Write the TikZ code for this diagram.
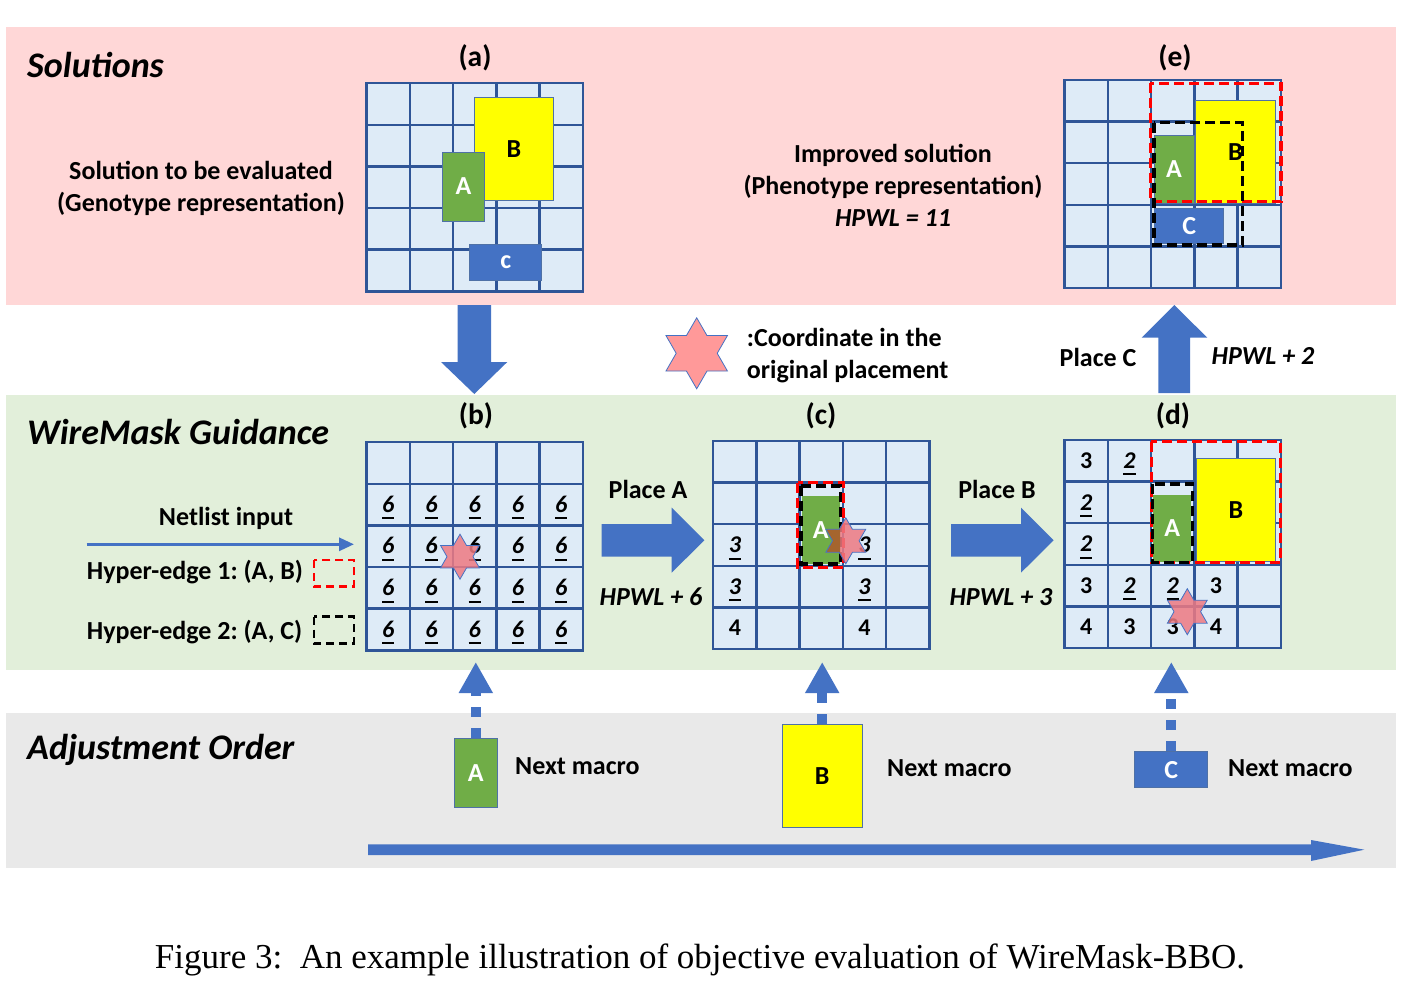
\documentclass[tikz,border=0pt]{standalone}
\usepackage{fontspec}
\setmainfont{Carlito}
\newfontfamily\capfont{Liberation Serif}
\usetikzlibrary{shapes.geometric,arrows.meta}
\frenchspacing
\definecolor{bandpink}{HTML}{FFD7D7}
\definecolor{bandgreen}{HTML}{E2EFDA}
\definecolor{bandgray}{HTML}{E9E9E9}
\definecolor{cellblue}{HTML}{DEEBF7}
\definecolor{gridblue}{HTML}{2F5597}
\definecolor{mblue}{HTML}{4472C4}
\definecolor{mgreen}{HTML}{70AD47}
\definecolor{myellow}{HTML}{FFFF00}
\definecolor{starpink}{HTML}{FF9999}
\definecolor{gridstar}{HTML}{EE7A82}
\definecolor{starbrown}{HTML}{A5652E}
\definecolor{blkline}{HTML}{4F71A6}

\newcommand{\un}[1]{\setbox0\hbox{\textit{#1}}\rlap{\rule[-7pt]{\wd0}{2pt}}\box0}

\newcommand{\wmgrid}[3]{%
  \node[gridbg] (#1) at ({#2+108},{#3+104}) {};
  \foreach \i in {1,2,3,4} {
    \draw[gridline] ({#2+\i*43.2},#3) -- ({#2+\i*43.2},{#3+208});
    \draw[gridline] (#2,{#3+\i*41.6}) -- ({#2+216},{#3+\i*41.6});
  }
  \draw[gridline] (#1.north west) rectangle (#1.south east);
}
\newcommand{\cnum}[6]{\node[numtxt, anchor=base] (#1n#4#5) at ({#2+(#4-0.5)*43.2},{#3+(#5-0.5)*41.6+7.6}) {#6};}

\begin{document}
\begin{tikzpicture}[x=1pt,y=-1pt,
  every node/.style={font=\bfseries\fontsize{26}{32}\selectfont, inner sep=0pt},
  titletxt/.style={font=\bfseries\itshape\fontsize{36}{42}\selectfont, anchor=west},
  sublbl/.style={font=\bfseries\fontsize{29.5}{34}\selectfont},
  numtxt/.style={font=\bfseries\fontsize{24}{28}\selectfont},
  gridbg/.style={rectangle, fill=cellblue, minimum width=216pt, minimum height=208pt},
  gridline/.style={draw=gridblue, line width=2.5pt},
  blk/.style={rectangle, draw=blkline, line width=1pt},
  blkA/.style={blk, fill=mgreen, text=white},
  blkB/.style={blk, fill=myellow, text=black},
  blkC/.style={blk, fill=mblue, text=white},
  redbox/.style={draw=red, line width=3.5pt, dash pattern=on 10pt off 5pt},
  blackbox/.style={draw=black, line width=3.5pt, dash pattern=on 10pt off 5pt},
  sixstar/.style={star, star points=6, star point ratio=1.73, minimum size=#1},
  blockarrow/.style={fill=mblue},
  dasharrow/.style={draw=mblue, line width=10pt, dash pattern=on 10pt off 11pt, -{Triangle[length=31pt,width=32pt]}},
  thinarrow/.style={draw=mblue, line width=3pt, -{Triangle[length=15pt,width=13pt]}}
]
\useasboundingbox (0,0) rectangle (1422,982);
\fill[white] (0,0) rectangle (1422,982);
% bands
\fill[bandpink] (6,27) rectangle (1396,305);
\fill[bandgreen] (6,395) rectangle (1396,670);
\fill[bandgray] (6,713) rectangle (1396,868);

% titles
\node[titletxt] (tsol) at (27,65) {Solutions};
\node[titletxt] (twm) at (27,432) {WireMask Guidance};
\node[titletxt] (tadj) at (27,750) {Adjustment Order};

% sub labels
\node[sublbl] (la) at (475,58) {(a)};
\node[sublbl] (le) at (1175,58) {(e)};
\node[sublbl] (lb) at (476,416) {(b)};
\node[sublbl] (lc) at (821,416) {(c)};
\node[sublbl] (ld) at (1173,416) {(d)};

% ---------- grid (a)
\wmgrid{ga}{366.7}{83.3}
\node[blkB, minimum width=79.4pt, minimum height=103pt] (aB) at (514,148.8) {B};
\node[blkA, minimum width=42.4pt, minimum height=69pt] (aA) at (463.5,186.5) {A};
\node[blkC, minimum width=71.7pt, minimum height=35.7pt] (aC) at (505.8,262.2) {c};
\node[align=center] (soltxt) at (201,188) {Solution to be evaluated\\(Genotype representation)};

% ---------- grid (e)
\wmgrid{ge}{1064.7}{80}
\node[blkB, minimum width=79.6pt, minimum height=103.3pt] (eB) at (1235.5,151.7) {B};
\node[blkA, minimum width=40pt, minimum height=68.3pt] (eA) at (1174,169.2) {A};
\node[blkC, minimum width=69.3pt, minimum height=35pt] (eC) at (1189.3,225.8) {C};
\draw[redbox] (1150.3,83.3) rectangle (1281,201.7);
\draw[blackbox] (1154,122.7) rectangle (1242.3,245);
\node[align=center] (imptxt) at (893,185) {Improved solution\\(Phenotype representation)\\\textit{HPWL = 11}};

% ---------- legend star
\node[sixstar=71pt, fill=starpink, draw=mblue, line width=0.8pt] (legstar) at (696.7,353.3) {};
\node[align=left, anchor=west] (legtxt) at (746.7,356) {:Coordinate in the\\original placement};

% ---------- grid (b)
\wmgrid{gb}{366.7}{442.3}
\foreach \c in {1,...,5} {\foreach \r in {2,...,5} {\cnum{gb}{366.7}{442.3}{\c}{\r}{\un{6}}}}
\node[sixstar=45pt, fill=gridstar, fill opacity=0.85, draw=mblue, line width=0.8pt] (sb) at (460,556.7) {};

% netlist legend
\node (nltxt) at (226,518) {Netlist input};
\coordinate (nl1) at (86.7,544.3);
\coordinate (nl2) at (354,544.3);
\draw[thinarrow] (nl1) -- (nl2);
\node[anchor=west] (he1) at (86.7,571.7) {Hyper-edge 1: (A, B)};
\node[anchor=west] (he2) at (86.7,631.7) {Hyper-edge 2: (A, C)};
\draw[draw=red, line width=2.5pt, dash pattern=on 8pt off 5pt] (314,560) rectangle (354,586.7);
\draw[draw=black, line width=2.5pt, dash pattern=on 8pt off 5pt] (314,616.7) rectangle (354,643.3);

% ---------- grid (c)
\wmgrid{gc}{713.3}{441}
\cnum{gc}{713.3}{441}{1}{3}{\un{3}}
\cnum{gc}{713.3}{441}{4}{3}{\un{3}}
\cnum{gc}{713.3}{441}{1}{4}{\un{3}}
\cnum{gc}{713.3}{441}{4}{4}{\un{3}}
\cnum{gc}{713.3}{441}{1}{5}{4}
\cnum{gc}{713.3}{441}{4}{5}{4}
\node[blkA, draw=none, minimum width=38.3pt, minimum height=68pt] (cA) at (820.8,530) {A};
\draw[redbox] (797.7,482.7) rectangle (843.3,567.3);
\draw[blackbox] (801,486) rectangle (840.7,564);
\node[sixstar=46pt, fill=gridstar, fill opacity=0.85] (sc) at (845.8,540.8) {};
\begin{scope}
  \clip (801.7,496) rectangle (840,564);
  \node[sixstar=46pt, fill=starbrown] (scb) at (845.8,540.8) {};
\end{scope}
\node[sixstar=46pt, draw=mblue, line width=0.8pt] (sco) at (845.8,540.8) {};

% ---------- grid (d)
\wmgrid{gd}{1064.7}{440}
\cnum{gd}{1064.7}{440}{1}{1}{3}
\cnum{gd}{1064.7}{440}{2}{1}{\un{2}}
\cnum{gd}{1064.7}{440}{1}{2}{\un{2}}
\cnum{gd}{1064.7}{440}{1}{3}{\un{2}}
\cnum{gd}{1064.7}{440}{1}{4}{3}
\cnum{gd}{1064.7}{440}{2}{4}{\un{2}}
\cnum{gd}{1064.7}{440}{3}{4}{\un{2}}
\cnum{gd}{1064.7}{440}{4}{4}{3}
\cnum{gd}{1064.7}{440}{1}{5}{4}
\cnum{gd}{1064.7}{440}{2}{5}{3}
\cnum{gd}{1064.7}{440}{3}{5}{3}
\cnum{gd}{1064.7}{440}{4}{5}{4}
\node[blkB, minimum width=79pt, minimum height=103.4pt] (dB) at (1235.8,510) {B};
\node[blkA, draw=none, minimum width=38.3pt, minimum height=66.7pt] (dA) at (1172.2,528.3) {A};
\draw[redbox] (1151.3,441.7) rectangle (1280.7,562.7);
\draw[blackbox] (1152.3,484) rectangle (1192.3,562.7);
\node[sixstar=46pt, fill=gridstar, fill opacity=0.85, draw=mblue, line width=0.8pt] (sd) at (1187.3,611.7) {};

% ---------- block arrows
\fill[blockarrow] (457.7,305) -- (491,305) -- (491,362) -- (507.3,362) -- (474.3,394) -- (441,362) -- (457.7,362) -- cycle;
\fill[blockarrow] (601.7,524) -- (671.7,524) -- (671.7,507.7) -- (704.3,540.3) -- (671.7,572.7) -- (671.7,556.7) -- (601.7,556.7) -- cycle;
\fill[blockarrow] (951,524) -- (1021,524) -- (1021,507.7) -- (1053.6,540.3) -- (1021,572.7) -- (1021,556.7) -- (951,556.7) -- cycle;
\fill[blockarrow] (1158.3,393) -- (1158.3,337.7) -- (1141.7,337.7) -- (1174.3,305) -- (1207.3,337.7) -- (1190,337.7) -- (1190,393) -- cycle;
\fill[blockarrow] (368,844.3) -- (1311,844.3) -- (1311,840) -- (1364.3,849.7) -- (1311,861) -- (1311,855) -- (368,855) -- cycle;

% arrow labels
\node (pa) at (648,489) {Place A};
\node (ha) at (651,597) {\textit{HPWL + 6}};
\node (pb) at (997,489) {Place B};
\node (hb) at (1001,597) {\textit{HPWL + 3}};
\node (pc) at (1098,357) {Place C};
\node (hc) at (1263,356) {\textit{HPWL + 2}};

% ---------- adjustment order
\node[blkA, minimum width=43pt, minimum height=69pt] (mA) at (475.8,772.8) {A};
\node[blkB, minimum width=79.7pt, minimum height=103pt] (mB) at (822.2,775.8) {B};
\node[blkC, minimum width=72.7pt, minimum height=36pt] (mC) at (1171.3,769.7) {C};
\coordinate (tA) at (475.8,662);
\coordinate (tB) at (822.2,662);
\coordinate (tC) at (1171.3,662);
\draw[dasharrow] (mA.north) -- (tA);
\draw[dasharrow] (mB.north) -- (tB);
\draw[dasharrow] (mC.north) -- (tC);
\node[anchor=west] (nmA) at (515,766) {Next macro};
\node[anchor=west] (nmB) at (887,768) {Next macro};
\node[anchor=west] (nmC) at (1228,768) {Next macro};

% caption
\node[font=\capfont\fontsize{35}{40}\selectfont] (cap) at (700,960) {Figure 3:\ \ An example illustration of objective evaluation of WireMask-BBO.};
\end{tikzpicture}
\end{document}
